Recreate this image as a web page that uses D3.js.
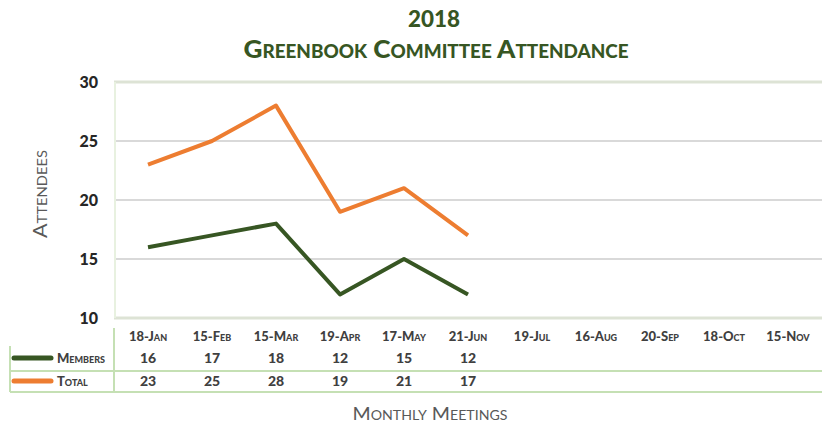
<!DOCTYPE html>
<html>
<head>
<meta charset="utf-8">
<script src="https://cdn.jsdelivr.net/npm/d3@7"></script>
<style>
  body { margin: 0; background: #fff; }
  text { font-family: Lato, "Open Sans", sans-serif; }
</style>
</head>
<body>
<div id="viz"></div>
<script>
const meetings = ["18-Jan", "15-Feb", "15-Mar", "19-Apr", "17-May", "21-Jun", "19-Jul", "16-Aug", "20-Sep", "18-Oct", "15-Nov"];
const members = [16, 17, 18, 12, 15, 12];
const total = [23, 25, 28, 19, 21, 17];
const yTicks = [10, 15, 20, 25, 30];

const width = 822;
const height = 432;

const svg = d3.select("#viz").append("svg")
    .attr("width", width)
    .attr("height", height)

const x = d3.scaleBand()
    .domain(meetings)
    .range([116, 820])

const y = d3.scaleLinear()
    .domain([10, 30])
    .range([318, 82])

const green = "#375623";
const orange = "#ed7d31";
const tableLine = "#c5e0b4";

// titles
svg.append("text")
    .attr("x", 434).attr("y", 27)
    .attr("text-anchor", "middle")
    .attr("fill", green)
    .style("font-size", "23px").style("font-weight", "900")
    .attr("textLength", 52).attr("lengthAdjust", "spacingAndGlyphs")
    .text("2018")

svg.append("text")
    .attr("x", 436).attr("y", 58)
    .attr("text-anchor", "middle")
    .attr("fill", green)
    .style("font-size", "25px").style("font-weight", "900")
    .style("font-variant", "small-caps")
    .attr("textLength", 385).attr("lengthAdjust", "spacingAndGlyphs")
    .text("Greenbook Committee  Attendance")

// gridlines
svg.append("g")
    .selectAll("line")
    .data([15, 20, 25])
    .enter()
    .append("line")
    .attr("x1", 116).attr("x2", 822)
    .attr("y1", d => y(d)).attr("y2", d => y(d))
    .attr("stroke", "#d9d9d9")
    .attr("stroke-width", 2)

// plot border
svg.append("g")
    .selectAll("line")
    .data([10, 30])
    .enter()
    .append("line")
    .attr("x1", 114).attr("x2", 822)
    .attr("y1", d => y(d)).attr("y2", d => y(d))
    .attr("stroke", "#dde3d5")
    .attr("stroke-width", 3)

svg.append("line")
    .attr("x1", 115).attr("x2", 115)
    .attr("y1", y(30)).attr("y2", y(10))
    .attr("stroke", "#e8f1e0")
    .attr("stroke-width", 2)

// y axis labels
const yAxis = svg.append("g")
    .attr("transform", "translate(98,0)")
    .call(d3.axisLeft(y).tickValues(yTicks).tickSize(0).tickPadding(0))
yAxis.select(".domain").remove()
yAxis.selectAll("text")
    .attr("fill", "#262626")
    .style("font-size", "16px")
    .style("font-weight", "900")
    .style("font-family", "Lato, sans-serif")

svg.append("text")
    .attr("transform", "translate(47,194) rotate(-90)")
    .attr("text-anchor", "middle")
    .attr("fill", "#595959")
    .style("font-size", "19px")
    .style("font-variant", "small-caps")
    .attr("textLength", 88).attr("lengthAdjust", "spacingAndGlyphs")
    .text("Attendees")

// lines
const line = d3.line()
    .x((d, i) => x(meetings[i]) + x.bandwidth() / 2)
    .y(d => y(d))

const series = [
    { name: "Members", values: members, color: green },
    { name: "Total", values: total, color: orange }
];

svg.append("g")
    .selectAll("path")
    .data(series)
    .enter()
    .append("path")
    .attr("d", d => line(d.values))
    .attr("fill", "none")
    .attr("stroke", d => d.color)
    .attr("stroke-width", 4)
    .attr("stroke-linejoin", "round")

// data table
const rowY = [358, 381];

svg.append("line")
    .attr("x1", 114).attr("x2", 114)
    .attr("y1", 328).attr("y2", 392)
    .attr("stroke", tableLine).attr("stroke-width", 2)
svg.append("line")
    .attr("x1", 10).attr("x2", 10)
    .attr("y1", 346).attr("y2", 392)
    .attr("stroke", tableLine).attr("stroke-width", 2)
svg.append("g")
    .selectAll("line")
    .data([371, 392])
    .enter()
    .append("line")
    .attr("x1", 10).attr("x2", 822)
    .attr("y1", d => d).attr("y2", d => d)
    .attr("stroke", tableLine).attr("stroke-width", 2)

svg.append("g")
    .selectAll("text")
    .data(meetings)
    .enter()
    .append("text")
    .attr("x", d => x(d) + x.bandwidth() / 2)
    .attr("y", 341)
    .attr("text-anchor", "middle")
    .attr("fill", "#404040")
    .style("font-size", "13px")
    .style("font-weight", "900")
    .style("font-variant", "small-caps")
    .text(d => d)

series.forEach((s, r) => {
    svg.append("line")
        .attr("x1", 14).attr("x2", 51)
        .attr("y1", rowY[r]).attr("y2", rowY[r])
        .attr("stroke", s.color)
        .attr("stroke-width", 5)
        .attr("stroke-linecap", "round")

    svg.append("text")
        .attr("x", 57).attr("y", rowY[r] + 5)
        .attr("fill", "#404040")
        .style("font-size", "13px")
        .style("font-weight", "900")
        .style("font-variant", "small-caps")
        .text(s.name)

    svg.append("g")
        .selectAll("text")
        .data(s.values)
        .enter()
        .append("text")
        .attr("x", (d, i) => x(meetings[i]) + x.bandwidth() / 2)
        .attr("y", rowY[r] + 5)
        .attr("text-anchor", "middle")
        .attr("fill", "#404040")
        .style("font-size", "14px")
        .style("font-weight", "900")
        .text(d => d)
})

svg.append("text")
    .attr("x", 430).attr("y", 420)
    .attr("text-anchor", "middle")
    .attr("fill", "#595959")
    .style("font-size", "18px")
    .style("font-variant", "small-caps")
    .attr("textLength", 155).attr("lengthAdjust", "spacingAndGlyphs")
    .text("Monthly Meetings")
</script>
</body>
</html>
